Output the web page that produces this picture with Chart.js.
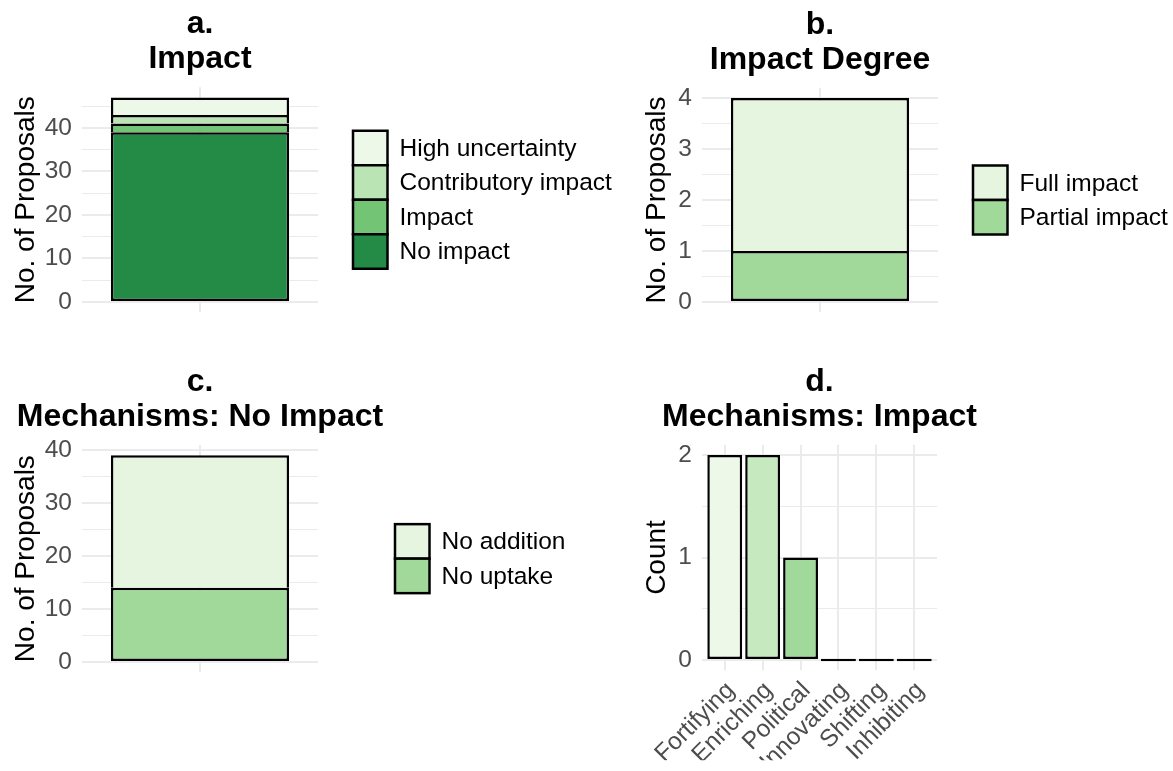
<!DOCTYPE html>
<html>
<head>
<meta charset="utf-8">
<title>Proposal impact and mechanisms</title>
<script src="https://cdn.jsdelivr.net/npm/chart.js@4.4.1/dist/chart.umd.min.js"></script>
<style>
  html, body { margin: 0; padding: 0; background: #ffffff; }
  #page { position: relative; width: 1173px; height: 771px; overflow: hidden; background: #ffffff; }
  .panel { position: absolute; }
  .panel canvas { display: block; }
</style>
</head>
<body>
<div id="page">
  <div class="panel" style="left:0;top:0;width:640px;height:340px"><canvas id="impact" width="640" height="340"></canvas></div>
  <div class="panel" style="left:640px;top:0;width:533px;height:340px"><canvas id="degree" width="533" height="340"></canvas></div>
  <div class="panel" style="left:0;top:340px;width:640px;height:431px"><canvas id="noImpact" width="640" height="431"></canvas></div>
  <div class="panel" style="left:640px;top:340px;width:533px;height:431px"><canvas id="mechanisms" width="533" height="431"></canvas></div>
</div>
<script>
// ---- a. Impact: every proposal, one stacked column (bottom to top) ----
const impactClasses = ['No impact', 'Impact', 'Contributory impact', 'High uncertainty'];
const impactCounts = [39, 2, 2, 4];
const impactTicks = [0, 5, 10, 15, 20, 25, 30, 35, 40, 45];
const impactTickLabels = ['0', '', '10', '', '20', '', '30', '', '40', ''];

// ---- b. Impact degree of the proposals with impact ----
const degreeClasses = ['Partial impact', 'Full impact'];
const degreeCounts = [1, 3];
const degreeTicks = [0, 0.5, 1, 1.5, 2, 2.5, 3, 3.5, 4];
const degreeTickLabels = ['0', '', '1', '', '2', '', '3', '', '4'];

// ---- c. Mechanisms behind no impact ----
const noImpactClasses = ['No uptake', 'No addition'];
const noImpactCounts = [14, 25];
const noImpactTicks = [0, 5, 10, 15, 20, 25, 30, 35, 40];
const noImpactTickLabels = ['0', '', '10', '', '20', '', '30', '', '40'];

// ---- d. Mechanisms behind impact ----
const mechanisms = ['Fortifying', 'Enriching', 'Political', 'Innovating', 'Shifting', 'Inhibiting'];
const mechanismCounts = [2, 2, 1, 0, 0, 0];
const countTicks = [0, 0.5, 1, 1.5, 2];
const countTickLabels = ['0', '', '1', '', '2'];

// Fill colours (Greens palette)
const impactFills = ['#238b45', '#74c476', '#bae4b3', '#edf8e9'];
const degreeFills = ['#a1d99b', '#e5f5e0'];
const noImpactFills = ['#a1d99b', '#e5f5e0'];
const mechanismFills = ['#edf8e9', '#c7e9c0', '#a1d99b', '#74c476', '#41ab5d', '#238b45'];

const FONT = '"Liberation Sans", Arial, Helvetica, sans-serif';
const GRID = '#ebebeb';
const TICK_COLOUR = '#4d4d4d';
const OUTLINE = 2.5;
Chart.defaults.font.family = FONT;
Chart.defaults.color = TICK_COLOUR;

// Two-line bold heading centred over the plotting area
const panelTitle = {
  id: 'panelTitle',
  afterDraw(chart, args, opts) {
    if (!opts.lines) return;
    const { ctx, chartArea } = chart;
    const cx = (chartArea.left + chartArea.right) / 2;
    ctx.save();
    ctx.font = 'bold ' + opts.size + 'px ' + FONT;
    ctx.fillStyle = '#000000';
    ctx.textAlign = 'center';
    ctx.textBaseline = 'alphabetic';
    opts.lines.forEach((line, i) => ctx.fillText(line, cx, chartArea.top - opts.baselines[i]));
    ctx.restore();
  }
};

// Square-key legend to the right of the plotting area, listed top stack first
const swatchLegend = {
  id: 'swatchLegend',
  afterDraw(chart, args, opts) {
    if (!opts.gap) return;
    const { ctx, chartArea } = chart;
    const items = chart.data.datasets.map(d => ({ text: d.label, fill: d.backgroundColor })).reverse();
    const box = opts.box;
    const x0 = chartArea.right + opts.gap;
    const y0 = (chartArea.top + chartArea.bottom) / 2 - items.length * box / 2;
    ctx.save();
    ctx.font = opts.size + 'px ' + FONT;
    ctx.textAlign = 'left';
    ctx.textBaseline = 'middle';
    items.forEach((it, i) => {
      const y = y0 + i * box;
      ctx.fillStyle = it.fill;
      ctx.fillRect(x0, y, box, box);
      ctx.lineWidth = OUTLINE;
      ctx.strokeStyle = '#000000';
      ctx.strokeRect(x0, y, box, box);
      ctx.fillStyle = '#000000';
      ctx.fillText(it.text, x0 + box + 12, y + box / 2 + 1);
    });
    ctx.restore();
  }
};

// Count axis with major (labelled) and minor gridlines, 5 % headroom either side
function countAxis(ticks, labels, top, title, width, stacked) {
  return {
    type: 'linear',
    stacked: stacked,
    min: -0.05 * top,
    max: 1.05 * top,
    afterBuildTicks: s => { s.ticks = ticks.map(v => ({ value: v })); },
    afterFit: s => { s.width = width; },
    ticks: {
      autoSkip: false,
      callback: (v, i) => labels[i],
      font: { size: 24.5 },
      color: TICK_COLOUR,
      padding: 10
    },
    grid: {
      color: GRID,
      lineWidth: c => (labels[c.index] ? 2 : 1),
      drawTicks: false
    },
    border: { display: false },
    title: { display: true, text: title, font: { size: 28 }, color: '#000000', padding: 0 }
  };
}

function stackedColumn(id, classes, counts, fills, ticks, tickLabels, layout) {
  const total = counts.reduce((a, b) => a + b, 0);
  return new Chart(document.getElementById(id), {
    type: 'bar',
    data: {
      labels: [''],
      datasets: classes.map((name, i) => ({
        label: name,
        data: [counts[i]],
        backgroundColor: fills[i],
        borderColor: '#000000',
        borderWidth: OUTLINE,
        borderSkipped: i === 0 ? false : 'start',
        barPercentage: 1,
        categoryPercentage: 0.755
      }))
    },
    options: {
      responsive: false,
      animation: false,
      devicePixelRatio: 1,
      layout: { padding: layout.padding },
      scales: {
        x: {
          stacked: true,
          offset: true,
          afterFit: s => { s.height = 10; },
          ticks: { display: false },
          grid: { color: GRID, lineWidth: 2, offset: false, drawTicks: false },
          border: { display: false }
        },
        y: countAxis(ticks, tickLabels, total, 'No. of Proposals', layout.axisWidth, true)
      },
      plugins: {
        legend: { display: false },
        tooltip: { enabled: false },
        panelTitle: { lines: layout.title, size: 32, baselines: [54, 19] },
        swatchLegend: { gap: layout.legendGap, box: 34.5, size: 24.5 }
      }
    },
    plugins: [panelTitle, swatchLegend]
  });
}

stackedColumn('impact', impactClasses, impactCounts, impactFills, impactTicks, impactTickLabels, {
  padding: { left: 9, right: 322, top: 87.3, bottom: 17.8 },
  axisWidth: 73, legendGap: 35, title: ['a.', 'Impact']
});

stackedColumn('degree', degreeClasses, degreeCounts, degreeFills, degreeTicks, degreeTickLabels, {
  padding: { left: 0, right: 235, top: 87.8, bottom: 17.8 },
  axisWidth: 62, legendGap: 35, title: ['b.', 'Impact Degree']
});

stackedColumn('noImpact', noImpactClasses, noImpactCounts, noImpactFills, noImpactTicks, noImpactTickLabels, {
  padding: { left: 9, right: 322, top: 105, bottom: 88.7 },
  axisWidth: 73, legendGap: 77, title: ['c.', 'Mechanisms: No Impact']
});

// Panel d: one bar per mechanism, slots 1..n on the x scale
const mechanismSlots = mechanisms.map((_, i) => i + 1);
new Chart(document.getElementById('mechanisms'), {
  type: 'bar',
  data: {
    datasets: [{
      label: 'Count',
      data: mechanismSlots.map((x, i) => ({ x: x, y: mechanismCounts[i] })),
      backgroundColor: mechanismFills,
      borderColor: '#000000',
      borderWidth: OUTLINE,
      borderSkipped: false,
      barPercentage: 0.92,
      categoryPercentage: 1,
      minBarLength: 2.5
    }]
  },
  options: {
    responsive: false,
    animation: false,
    devicePixelRatio: 1,
    layout: { padding: { left: 0, right: 236, top: 104.75, bottom: 10.75 } },
    scales: {
      x: {
        type: 'linear',
        offset: false,
        min: 0.4,
        max: mechanisms.length + 0.6,
        afterBuildTicks: s => { s.ticks = mechanismSlots.map(v => ({ value: v })); },
        afterFit: s => { s.height = 90; },
        ticks: {
          autoSkip: false,
          callback: v => mechanisms[v - 1],
          minRotation: 45,
          maxRotation: 45,
          font: { size: 24.5 },
          color: TICK_COLOUR,
          padding: 6,
          labelOffset: 6
        },
        grid: { color: GRID, lineWidth: 2, offset: false, drawTicks: false },
        border: { display: false }
      },
      y: countAxis(countTicks, countTickLabels, Math.max(...mechanismCounts), 'Count', 62, false)
    },
    plugins: {
      legend: { display: false },
      tooltip: { enabled: false },
      panelTitle: { lines: ['d.', 'Mechanisms: Impact'], size: 32, baselines: [54, 19] },
      swatchLegend: { gap: 0 }
    }
  },
  plugins: [panelTitle, swatchLegend]
});
</script>
</body>
</html>
